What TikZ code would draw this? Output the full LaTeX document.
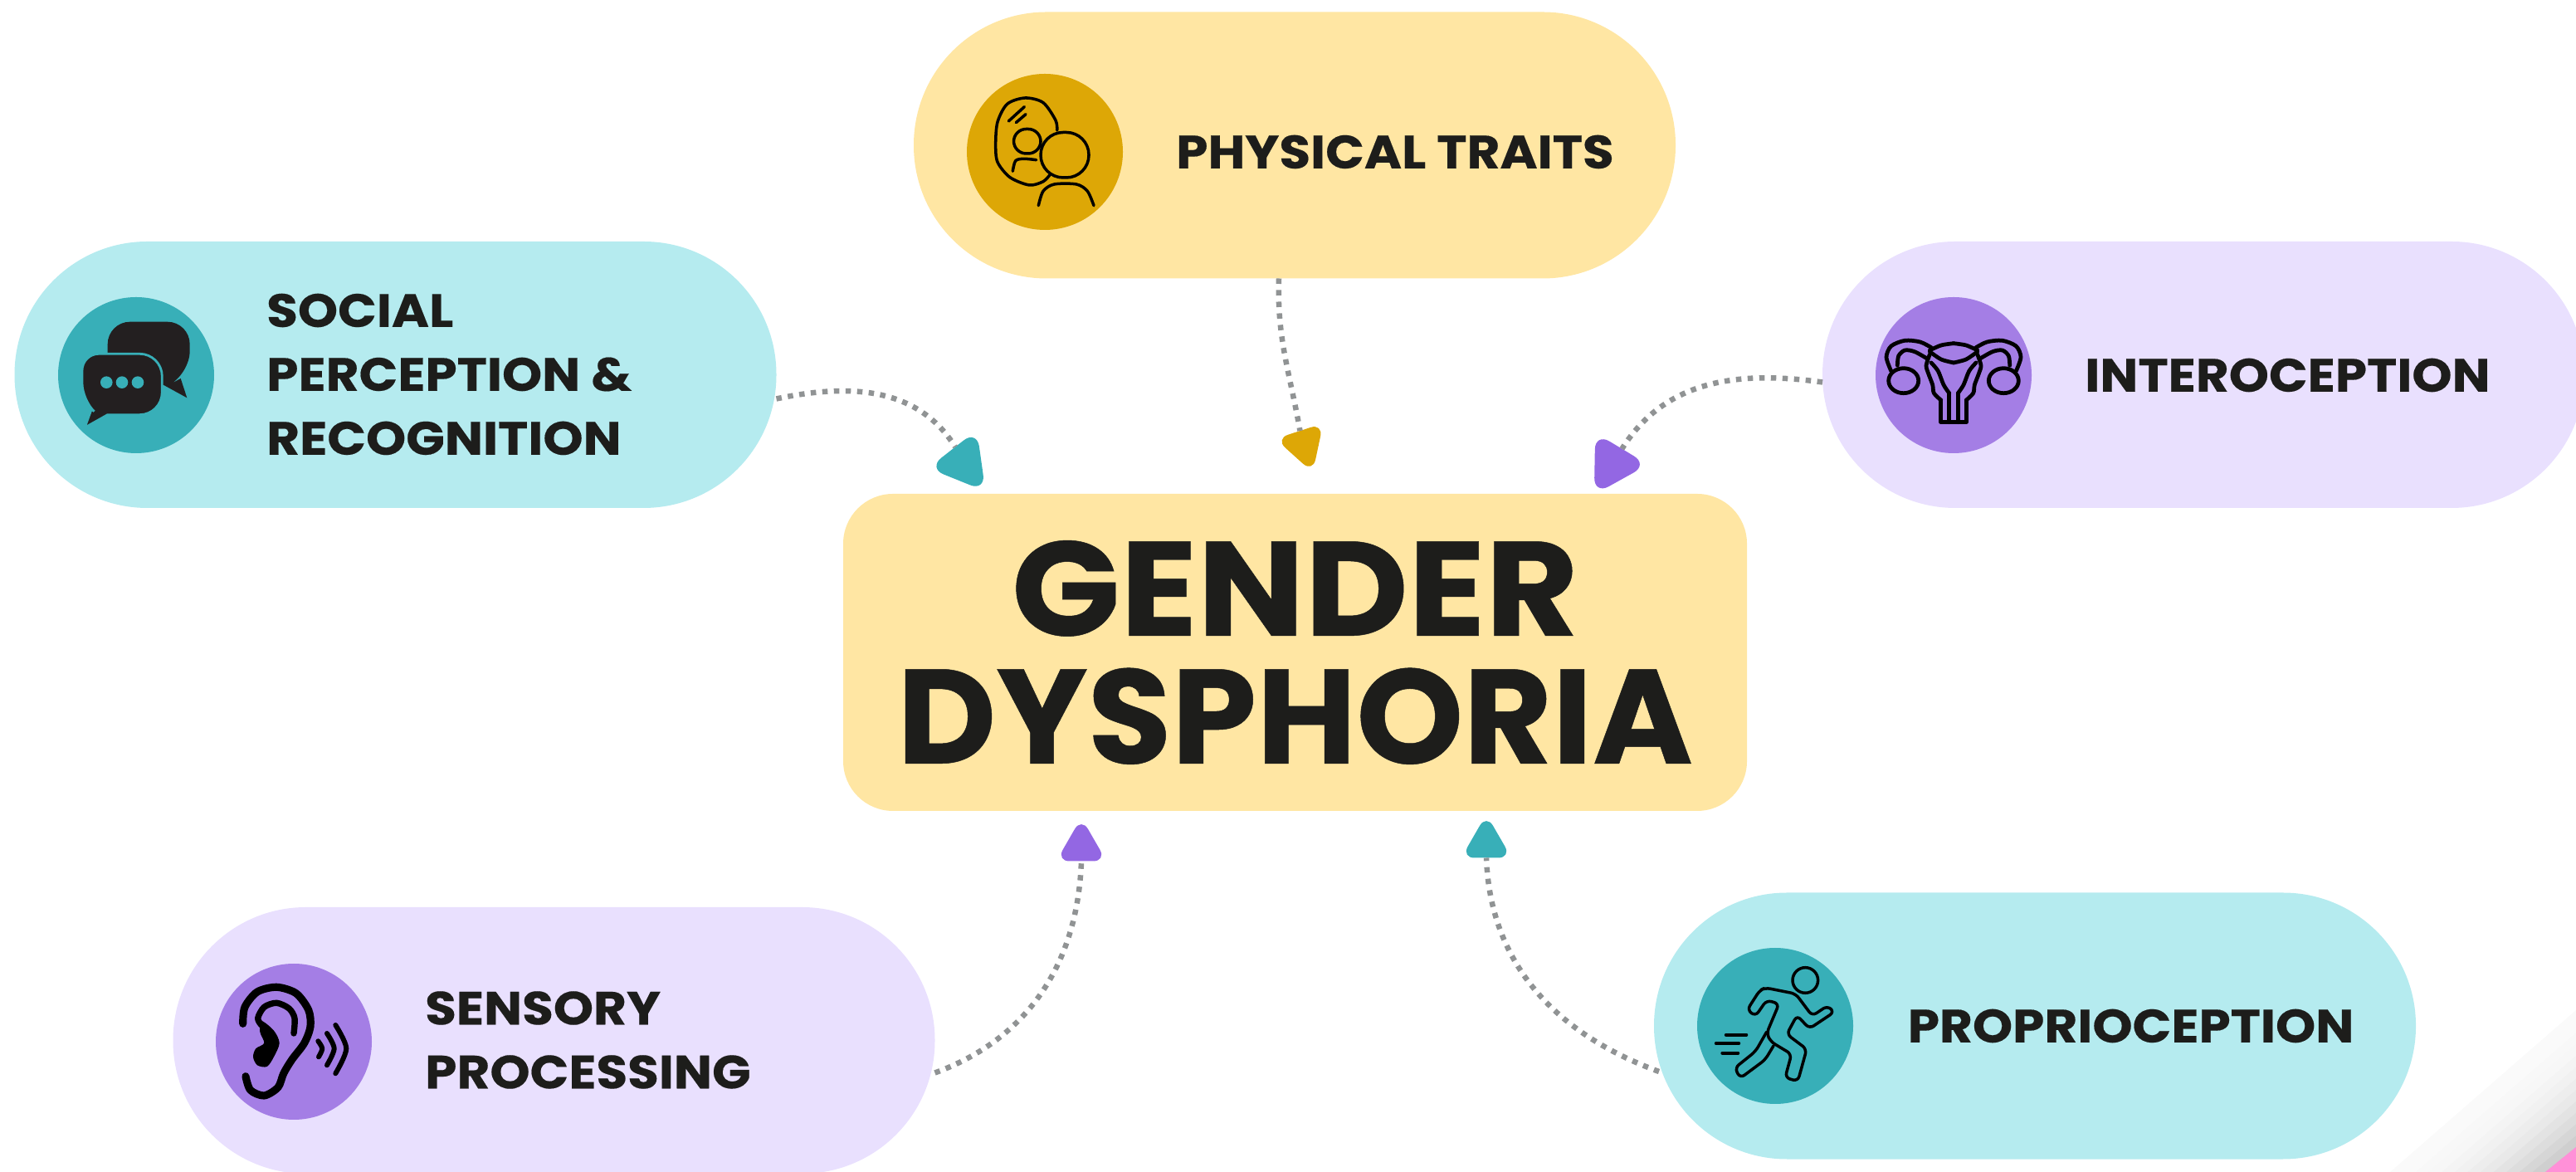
\documentclass[tikz,border=0pt]{standalone}
\usepackage{fontspec}
\setmainfont{Poppins}
\newfontfamily\captionfamily{Poppins}[BoldFeatures={FakeStretch=1.09,FakeBold=0.3}]
\newfontfamily\titlefamily{Poppins}[BoldFeatures={FakeStretch=1.063,FakeBold=0.3}]
\newfontfamily\subtitlefamily{Poppins}[BoldFeatures={FakeStretch=1.016,FakeBold=0.3}]
\usetikzlibrary{shapes.geometric}

\definecolor{paleyellow}{HTML}{FFE6A3}
\definecolor{gold}{HTML}{DDA706}
\definecolor{paleteal}{HTML}{B5EBEF}
\definecolor{teal}{HTML}{38AFB8}
\definecolor{palepurple}{HTML}{E9E0FE}
\definecolor{purple}{HTML}{A47EE5}
\definecolor{tippurple}{HTML}{9367E3}
\definecolor{inkblack}{HTML}{1D1D1B}
\definecolor{dotgray}{HTML}{909394}
\definecolor{bubbleblack}{HTML}{231F20}
\definecolor{cornerpink}{HTML}{FF90D8}

\tikzset{
	pill/.style={rectangle, rounded corners=1.6cm, minimum width=9.18cm, minimum height=3.21cm, inner sep=0pt, outer sep=0pt},
	badge/.style={circle, minimum size=1.88cm, inner sep=0pt, outer sep=0pt},
	caption/.style={anchor=west, align=left, inner sep=0pt, text=inkblack, font=\captionfamily\fontsize{16}{21.9}\selectfont\bfseries},
	tipmark/.style={regular polygon, regular polygon sides=3, minimum size=0.70cm, inner sep=0pt, outer sep=0pt, rounded corners=0.16cm},
	bigtip/.style={tipmark, minimum size=0.86cm, rounded corners=0.2cm},
	dots/.style={dotgray, line width=0.065cm, dash pattern=on 0.065cm off 0.075cm},
	glyph/.style={black, line cap=round, line join=round, line width=1pt}
}

\begin{document}
\begin{tikzpicture}
	\useasboundingbox (0,0) rectangle (31.04,14.12);
	% corner of the page
	\foreach \band in {0,...,12} {
		\pgfmathsetmacro{\bandx}{28.8+\band*0.156}
		\pgfmathsetmacro{\bandy}{1.95-\band*0.1375}
		\pgfmathsetmacro{\bandink}{2+20*(\band/12)^2}
		\fill[black!\bandink] (\bandx,0) -- (31.04,\bandy) -- (31.04,0) -- cycle;
	}
	\fill[cornerpink] (30.67,0) -- (31.04,0.30) -- (31.04,0) -- cycle;
	% centre
	\node[rectangle, rounded corners=0.6cm, minimum width=10.89cm, minimum height=3.82cm, inner sep=0pt, outer sep=0pt, fill=paleyellow, text=inkblack, align=center, font=\fontsize{46}{43.8}\selectfont\bfseries] (dysphoria) at (15.605,6.26) {\titlefamily GENDER\\\subtitlefamily DYSPHORIA};

	\begin{scope}[shift={(12.59,12.29)}] % physical traits
		\node[pill, fill=paleyellow] (physical) at (3.01,0.08) {};
		\node[badge, fill=gold] (physicalbadge) at (0,0) {};
		\node[caption] (physicaltext) at (1.575,0) {PHYSICAL TRAITS};
		\begin{scope}[glyph]
			\draw plot[smooth] coordinates {(0.147,0.26) (0.13,0.38) (-0.02,0.593) (-0.237,0.65) (-0.453,0.577) (-0.57,0.36) (-0.593,0.093) (-0.57,-0.123) (-0.42,-0.307) (-0.187,-0.4) (-0.02,-0.357) (0.063,-0.273)};
			\draw (-0.437,0.37) -- (-0.247,0.543);
			\draw (-0.347,0.353) -- (-0.23,0.453);
			\draw[rounded corners=0.15cm] (-0.375,-0.02) rectangle (-0.05,0.275);
			\draw plot[smooth] coordinates {(-0.387,-0.233) (-0.353,-0.107) (-0.253,-0.083) (-0.103,-0.097)};
			\draw[rounded corners=0.27cm] (-0.05,-0.31) rectangle (0.53,0.235);
			\draw plot[smooth] coordinates {(-0.077,-0.647) (-0.02,-0.473) (0.113,-0.39) (0.38,-0.39) (0.513,-0.473) (0.59,-0.647)};
		\end{scope}
	\end{scope}

	\begin{scope}[shift={(1.64,9.60)}] % social
		\node[pill, fill=paleteal] (social) at (3.125,0.005) {};
		\node[badge, fill=teal] (socialbadge) at (0,0) {};
		\node[caption] (socialtext) at (1.565,0.01) {SOCIAL\\PERCEPTION \&\\RECOGNITION};
		\fill[bubbleblack, rounded corners=0.27cm] (-0.343,0.2) -- (-0.343,0.643) -- (0.647,0.643) -- (0.647,0.02) [sharp corners] -- (0.537,-0.04) -- (0.613,-0.273) -- (0.347,-0.127) -- cycle;
		\filldraw[fill=bubbleblack, draw=teal, line width=0.8pt, rounded corners=0.27cm] (-0.65,0.257) -- (0.313,0.257) -- (0.313,-0.477) [sharp corners] -- (-0.343,-0.477) -- (-0.62,-0.633) -- (-0.537,-0.407) [rounded corners=0.2cm] -- (-0.65,-0.3) -- cycle;
		\foreach \dotx in {-0.357,-0.17,0.02}
			\fill[teal] (\dotx,-0.087) circle (0.073);
	\end{scope}

	\begin{scope}[shift={(23.54,9.60)}] % interoception
		\node[pill, fill=palepurple] (intero) at (3.01,0.005) {};
		\node[badge, fill=purple] (interobadge) at (0,0) {};
		\node[caption] (interotext) at (1.575,0) {INTEROCEPTION};
		\foreach \side in {1,-1} {
			\begin{scope}[glyph, line width=1.35pt, xscale=\side]
				\draw plot[smooth] coordinates {(-0.27,0.333) (-0.403,0.4) (-0.587,0.417) (-0.753,0.35) (-0.81,0.217) (-0.753,0.05)};
				\draw plot[smooth] coordinates {(-0.32,0.2) (-0.47,0.283) (-0.587,0.3) (-0.663,0.233) (-0.677,0.117)};
				\draw (-0.603,-0.067) ellipse (0.18 and 0.15);
				\draw plot[smooth] coordinates {(-0.287,0.3) (-0.15,0.36) (0,0.383)};
				\draw plot[smooth] coordinates {(-0.287,0.283) (-0.15,0.19) (0,0.15)};
				\draw plot[smooth] coordinates {(-0.287,0.25) (-0.33,0.117) (-0.303,0.017) (-0.253,-0.117) (-0.237,-0.217) (-0.153,-0.3)};
				\draw (-0.153,-0.3) -- (-0.153,-0.567) -- (0,-0.567);
				\draw plot[smooth] coordinates {(-0.27,0.15) (-0.187,0.05) (-0.12,-0.117) (-0.053,-0.217)};
				\draw (-0.053,-0.217) -- (-0.053,-0.567);
			\end{scope}
		}
	\end{scope}

	\begin{scope}[shift={(3.54,1.57)}] % sensory
		\node[pill, fill=palepurple] (sensory) at (3.135,0.015) {};
		\node[badge, fill=purple] (sensorybadge) at (0,0) {};
		\node[caption] (sensorytext) at (1.575,0.02) {SENSORY\\PROCESSING};
		\begin{scope}[glyph, line width=2.6pt]
			\draw plot[smooth] coordinates {(-0.613,0.217) (-0.59,0.417) (-0.44,0.6) (-0.207,0.657) (0.027,0.583) (0.177,0.383) (0.2,0.183) (0.127,-0.017) (-0.023,-0.217) (-0.123,-0.383) (-0.19,-0.55) (-0.357,-0.65) (-0.523,-0.583) (-0.58,-0.417)};
			\draw[line width=2.1pt] plot[smooth] coordinates {(0,0.1) (0.01,0.283) (-0.057,0.4) (-0.207,0.467) (-0.357,0.417) (-0.433,0.283) (-0.39,0.2)};
			\fill plot[smooth cycle] coordinates {(-0.39,0.25) (-0.24,0.133) (-0.173,-0.017) (-0.24,-0.183) (-0.323,-0.3) (-0.44,-0.283) (-0.49,-0.183) (-0.457,-0.083) (-0.357,-0.017) (-0.407,0.117)};
			\draw[line width=1.7pt] plot[smooth] coordinates {(0.293,0.007) (0.343,-0.083) (0.3,-0.183)};
			\draw[line width=1.7pt] plot[smooth] coordinates {(0.4,0.1) (0.487,-0.083) (0.4,-0.283)};
			\draw[line width=1.7pt] plot[smooth] coordinates {(0.503,0.2) (0.633,-0.083) (0.503,-0.383)};
		\end{scope}
	\end{scope}

	\begin{scope}[shift={(21.39,1.76)}] % proprioception
		\node[pill, fill=paleteal] (proprio) at (3.13,0) {};
		\node[badge, fill=teal] (propriobadge) at (0,0) {};
		\node[caption] (propriotext) at (1.59,0) {PROPRIOCEPTION};
		\begin{scope}[glyph]
			\draw (0.363,0.55) circle (0.153);
			\draw[rounded corners=0.06cm] (-0.12,0.46) -- (0.247,0.387) -- (0.447,0.12) -- (0.63,0.243) -- (0.713,0.167) -- (0.413,-0.033) -- (0.263,0.127) -- (0.14,-0.1) -- (0.38,-0.28) -- (0.273,-0.667) -- (0.12,-0.623) -- (0.197,-0.34) -- (-0.053,-0.19) -- (-0.103,-0.09) -- (0.047,0.267) -- (-0.103,0.31) -- (-0.237,0.117) -- (-0.337,0.193) -- (-0.187,0.427) -- cycle;
			\draw[rounded corners=0.06cm] (-0.103,-0.073) -- (-0.237,-0.307) -- (-0.487,-0.507) -- (-0.42,-0.63) -- (-0.12,-0.407) -- (-0.02,-0.24);
			\draw[line width=1.1pt] (-0.593,-0.107) -- (-0.347,-0.107);
			\draw[line width=1.1pt] (-0.713,-0.21) -- (-0.437,-0.21);
			\draw[line width=1.1pt] (-0.637,-0.327) -- (-0.447,-0.327);
		\end{scope}
	\end{scope}

	% arrow heads
	\node[bigtip, fill=teal, rotate=-22] (socialtip) at (11.61,8.54) {};
	\node[tipmark, fill=gold, rotate=-42] (physicaltip) at (15.71,8.76) {};
	\node[bigtip, fill=tippurple, rotate=29] (interotip) at (19.43,8.53) {};
	\node[tipmark, fill=tippurple] (sensorytip) at (13.03,3.92) {};
	\node[tipmark, fill=teal] (propriotip) at (17.91,3.96) {};

	% connectors
	\draw[dots] ([yshift=-0.29cm]social.east) to[out=12, in=122] (socialtip.139);
	\draw[dots] ([xshift=-0.19cm]physical.south) to[out=268, in=100] (physicaltip.147);
	\draw[dots] ([yshift=-0.09cm]intero.west) to[out=172, in=58] (interotip.29);
	\draw[dots] ([yshift=-0.39cm]sensory.east) to[out=20, in=268] (sensorytip.270);
	\draw[dots] ([xshift=0.06cm,yshift=-0.55cm]proprio.west) to[out=160, in=272] (propriotip.270);
\end{tikzpicture}
\end{document}
